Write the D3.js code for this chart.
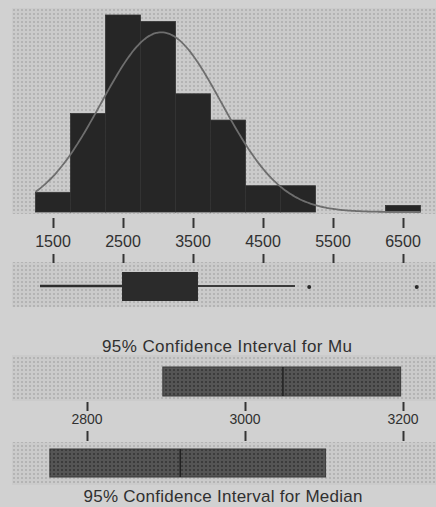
<!DOCTYPE html>
<html>
<head>
<meta charset="utf-8">
<script src="https://cdn.jsdelivr.net/npm/d3@7"></script>
<style>
  html, body { margin: 0; padding: 0; background: #d1d1d1; }
  svg { display: block; }
  text { font-family: "Liberation Sans", Arial, sans-serif; fill: #303030; }
</style>
</head>
<body>
<svg id="chart" width="436" height="507"></svg>
<script>
// Histogram of the sample (bin edges and counts)
const binEdges = [1250, 1750, 2250, 2750, 3250, 3750, 4250, 4750, 5250, 5750, 6250, 6750];
const binCounts = [3, 15, 30, 29, 18, 14, 4, 4, 0, 0, 1];

// Fitted normal curve parameters
const fitMean = 3048;
const fitSd = 860;

// Box plot summary
const boxQ1 = 2486;
const boxQ3 = 3571;
const whiskerLow = 1314;
const whiskerHigh = 4957;
const outliers = [5160, 6696];

// Confidence intervals
const muCI = [2896, 3048, 3197];       // lower, mean, upper
const medianCI = [2753, 2918, 3102];   // lower, median, upper

// Axis tick labels
const mainTicks = [1500, 2500, 3500, 4500, 5500, 6500];
const ciTicks = [2800, 3000, 3200];

const titleMu = "95% Confidence Interval for Mu";
const titleMedian = "95% Confidence Interval for Median";

const svg = d3.select("#chart");
const W = 436;

// Dotted textures
const defs = svg.append("defs");
const panelPat = defs.append("pattern").attr("id", "panelDots")
  .attr("width", 4).attr("height", 4).attr("patternUnits", "userSpaceOnUse");
panelPat.append("rect").attr("width", 4).attr("height", 4).attr("fill", "#cbcbcb");
panelPat.append("rect").attr("x", 1).attr("y", 1).attr("width", 2).attr("height", 2).attr("fill", "#b4b4b4");

const barPat = defs.append("pattern").attr("id", "barDots")
  .attr("width", 4).attr("height", 4).attr("patternUnits", "userSpaceOnUse");
barPat.append("rect").attr("width", 4).attr("height", 4).attr("fill", "#555555");
barPat.append("rect").attr("x", 1).attr("y", 1).attr("width", 2).attr("height", 2).attr("fill", "#3c3c3c");

// Panels
const panels = [
  { y: 8, h: 206 },
  { y: 262, h: 45 },
  { y: 355, h: 46 },
  { y: 442, h: 43 }
];
svg.selectAll("rect.panel").data(panels).join("rect")
  .attr("class", "panel")
  .attr("x", 12).attr("y", d => d.y)
  .attr("width", W - 12).attr("height", d => d.h)
  .attr("fill", "url(#panelDots)");

// Scales
const x = d3.scaleLinear().domain([1500, 6500]).range([53, 403]);
const y = d3.scaleLinear().domain([0, 30]).range([212, 15]);
const xc = d3.scaleLinear().domain([2800, 3200]).range([87, 403]);

// Histogram bars
const bins = binCounts.map((c, i) => ({ x0: binEdges[i], x1: binEdges[i + 1], n: c }))
  .filter(d => d.n > 0);
svg.append("g").selectAll("rect").data(bins).join("rect")
  .attr("x", d => x(d.x0))
  .attr("y", d => y(d.n))
  .attr("width", d => x(d.x1) - x(d.x0))
  .attr("height", d => y(0) - y(d.n))
  .attr("fill", "#262626")
  .attr("stroke", "#333333")
  .attr("stroke-width", 0.8);

// Fitted normal curve, scaled to expected counts per bin
const total = d3.sum(binCounts);
const binW = binEdges[1] - binEdges[0];
const curveXs = d3.range(binEdges[0], binEdges[binEdges.length - 1] + 1, 25);
const expected = v => total * binW * Math.exp(-0.5 * ((v - fitMean) / fitSd) ** 2) / (fitSd * Math.sqrt(2 * Math.PI));
svg.append("path")
  .datum(curveXs)
  .attr("d", d3.line().x(d => x(d)).y(d => y(expected(d))).curve(d3.curveBasis))
  .attr("fill", "none")
  .attr("stroke", "#6e6e6e")
  .attr("stroke-width", 1.8);

// Tick marks drawn above and below each row of labels
function tickRow(scale, values, yTop, len) {
  const g = svg.append("g").attr("transform", `translate(0,${yTop})`)
    .call(d3.axisBottom(scale).tickValues(values).tickSize(len).tickFormat(""));
  g.select(".domain").remove();
  g.selectAll("line").attr("stroke", "#343434").attr("stroke-width", 2);
  return g;
}
tickRow(x, mainTicks, 218, 10);
svg.append("g").selectAll("text").data(mainTicks).join("text")
  .attr("x", d => x(d)).attr("y", 247)
  .attr("text-anchor", "middle")
  .attr("font-size", 16)
  .text(d => d);
tickRow(x, mainTicks, 254, 9);

// Box plot
const by = 286;
svg.append("line")
  .attr("x1", x(whiskerLow)).attr("x2", x(boxQ1))
  .attr("y1", by).attr("y2", by)
  .attr("stroke", "#2e2e2e").attr("stroke-width", 2.5);
svg.append("line")
  .attr("x1", x(boxQ3)).attr("x2", x(whiskerHigh))
  .attr("y1", by).attr("y2", by)
  .attr("stroke", "#3a3a3a").attr("stroke-width", 2.2);
svg.append("rect")
  .attr("x", x(boxQ1)).attr("y", 272)
  .attr("width", x(boxQ3) - x(boxQ1)).attr("height", 29)
  .attr("fill", "#2b2b2b");
svg.append("g").selectAll("circle").data(outliers).join("circle")
  .attr("cx", d => x(d)).attr("cy", by + 1)
  .attr("r", 2)
  .attr("fill", "#2a2a2a");

// Confidence interval for Mu
svg.append("text")
  .attr("x", 227).attr("y", 352)
  .attr("text-anchor", "middle")
  .attr("font-size", 17)
  .attr("textLength", 250).attr("lengthAdjust", "spacing")
  .text(titleMu);
svg.append("rect")
  .attr("x", xc(muCI[0])).attr("y", 367)
  .attr("width", xc(muCI[2]) - xc(muCI[0])).attr("height", 29)
  .attr("fill", "url(#barDots)")
  .attr("stroke", "#3a3a3a").attr("stroke-width", 1);
svg.append("line")
  .attr("x1", xc(muCI[1])).attr("x2", xc(muCI[1]))
  .attr("y1", 367).attr("y2", 396)
  .attr("stroke", "#222").attr("stroke-width", 1.5);

// CI axis
tickRow(xc, ciTicks, 402, 9);
svg.append("g").selectAll("text").data(ciTicks).join("text")
  .attr("x", d => xc(d)).attr("y", 424)
  .attr("text-anchor", "middle")
  .attr("font-size", 14)
  .text(d => d);
tickRow(xc, ciTicks, 431, 10);

// Confidence interval for Median
svg.append("rect")
  .attr("x", xc(medianCI[0])).attr("y", 449)
  .attr("width", xc(medianCI[2]) - xc(medianCI[0])).attr("height", 28)
  .attr("fill", "url(#barDots)")
  .attr("stroke", "#3a3a3a").attr("stroke-width", 1);
svg.append("line")
  .attr("x1", xc(medianCI[1])).attr("x2", xc(medianCI[1]))
  .attr("y1", 449).attr("y2", 477)
  .attr("stroke", "#222").attr("stroke-width", 1.5);
svg.append("text")
  .attr("x", 223).attr("y", 502)
  .attr("text-anchor", "middle")
  .attr("font-size", 17)
  .attr("textLength", 279).attr("lengthAdjust", "spacing")
  .text(titleMedian);
</script>
</body>
</html>
